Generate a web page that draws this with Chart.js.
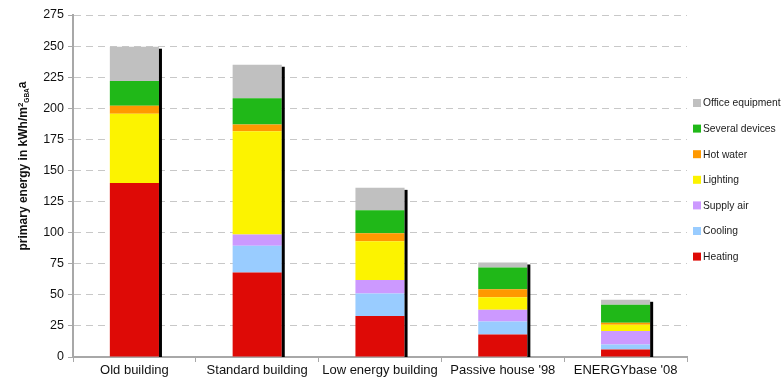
<!DOCTYPE html>
<html>
<head>
<meta charset="utf-8">
<script src="https://cdn.jsdelivr.net/npm/chart.js@4"></script>
<style>
    html, body { margin: 0; padding: 0; background: #fff; }
    #wrap { width: 784px; height: 380px; position: relative; }
</style>
</head>
<body>
<div id="wrap"><canvas id="energyChart"></canvas></div>
<script>
// Primary energy per building standard, stacked by consumer
const categories = ['Old building', 'Standard building', 'Low energy building', "Passive house '98", "ENERGYbase '08"];
const heating = [140, 68, 33, 18, 6];
const cooling = [0, 21.5, 18, 10.5, 4];
const supplyAir = [0, 9, 11, 9.5, 11];
const lighting = [55.5, 83, 31, 10, 5];
const hotWater = [6.5, 5.5, 6.5, 6.5, 1.5];
const severalDevices = [20, 21, 18.5, 17.5, 14.5];
const officeEquipment = [27.5, 27, 18, 4, 4];
const yMax = 275;
const yStep = 25;

const FONT = "'Liberation Sans', Arial, sans-serif";

const series = [
    { label: 'Heating', data: heating, color: '#DE0A06' },
    { label: 'Cooling', data: cooling, color: '#99CCFF' },
    { label: 'Supply air', data: supplyAir, color: '#CC99FF' },
    { label: 'Lighting', data: lighting, color: '#FCF300' },
    { label: 'Hot water', data: hotWater, color: '#FF9900' },
    { label: 'Several devices', data: severalDevices, color: '#20B818' },
    { label: 'Office equipment', data: officeEquipment, color: '#C0C0C0' }
];

// Black edge on the right side of every column
const columnEdge = {
    id: 'columnEdge',
    afterDatasetsDraw(chart) {
        const ctx = chart.ctx;
        const metas = chart.getSortedVisibleDatasetMetas();
        const base = chart.scales.y.getPixelForValue(0);
        categories.forEach((c, i) => {
            let top = null;
            metas.forEach(meta => {
                const v = chart.data.datasets[meta.index].data[i];
                if (v > 0) top = meta.data[i];
            });
            if (!top) return;
            ctx.save();
            ctx.fillStyle = '#000';
            ctx.fillRect(top.x + top.width / 2, top.y + 2, 3, base - top.y - 2);
            ctx.restore();
        });
    }
};

// Rotated axis title with super/subscripts, and the legend column
const decorations = {
    id: 'decorations',
    afterDraw(chart) {
        const ctx = chart.ctx;
        const area = chart.chartArea;

        const parts = [
            { t: 'primary energy in kWh/m', f: 'bold 12px ' + FONT, dy: 0 },
            { t: '2', f: 'bold 8px ' + FONT, dy: -4.5 },
            { t: 'GBA', f: 'bold 6.5px ' + FONT, dy: 2 },
            { t: 'a', f: 'bold 12px ' + FONT, dy: -1 }
        ];
        ctx.save();
        let total = 0;
        parts.forEach(p => { ctx.font = p.f; p.w = ctx.measureText(p.t).width; total += p.w; });
        ctx.translate(27, (area.top + area.bottom) / 2 - 20);
        ctx.rotate(-Math.PI / 2);
        ctx.fillStyle = '#111';
        ctx.textBaseline = 'alphabetic';
        let x = -total / 2;
        parts.forEach(p => {
            ctx.font = p.f;
            ctx.fillText(p.t, x, p.dy);
            x += p.w;
        });
        ctx.restore();

        // legend, top entry is the last stacked series
        ctx.save();
        ctx.font = '10.3px ' + FONT;
        ctx.textBaseline = 'middle';
        const legendX = area.right + 6;
        const startY = 103;
        const rowGap = 25.6;
        series.slice().reverse().forEach((s, k) => {
            const y = startY + k * rowGap;
            ctx.fillStyle = s.color;
            ctx.fillRect(legendX, y - 4, 8, 8);
            ctx.fillStyle = '#1a1a1a';
            ctx.fillText(s.label, legendX + 10, y + 0.5);
        });
        ctx.restore();
    }
};

const ctx = document.getElementById('energyChart').getContext('2d');
new Chart(ctx, {
    type: 'bar',
    data: {
        labels: categories,
        datasets: series.map(s => ({
            label: s.label,
            data: s.data,
            backgroundColor: s.color,
            borderWidth: 0,
            categoryPercentage: 0.8,
            barPercentage: 0.5
        }))
    },
    options: {
        responsive: true,
        maintainAspectRatio: false,
        animation: false,
        layout: { padding: { top: 15, right: 97, left: 0, bottom: 0 } },
        plugins: {
            legend: { display: false },
            tooltip: { enabled: false }
        },
        scales: {
            x: {
                stacked: true,
                afterFit(scale) { scale.height = 23; },
                grid: {
                    offset: true,
                    drawOnChartArea: false,
                    tickLength: 5,
                    tickColor: '#a8a8a8'
                },
                border: { color: '#a8a8a8', width: 2 },
                ticks: {
                    color: '#111',
                    padding: 1,
                    font: { family: FONT, size: 13 }
                }
            },
            y: {
                stacked: true,
                min: 0,
                max: yMax,
                afterFit(scale) { scale.width = 73; },
                grid: {
                    color: '#c8c8c8',
                    lineWidth: 1,
                    tickLength: 5,
                    tickColor: '#a8a8a8',
                    tickBorderDash: []
                },
                border: { color: '#a8a8a8', width: 2, dash: [7, 5] },
                ticks: {
                    stepSize: yStep,
                    color: '#111',
                    padding: 4,
                    font: { family: FONT, size: 12.5 }
                }
            }
        }
    },
    plugins: [columnEdge, decorations]
});
</script>
</body>
</html>
